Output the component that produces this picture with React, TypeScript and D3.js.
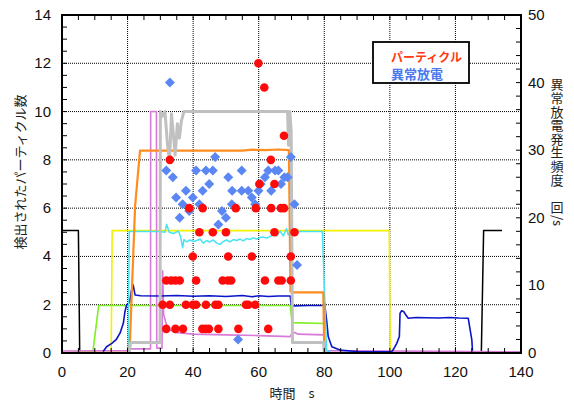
import React from 'react';
import * as d3 from 'd3';

type P = [number, number];

// ---------- axes ----------
const xTicks = [0, 20, 40, 60, 80, 100, 120, 140];
const yLeftTicks = [0, 2, 4, 6, 8, 10, 12, 14];
const yRightTicks = [0, 10, 20, 30, 40, 50];

// ---------- line series (time s, left-axis value) ----------
const blackLine: P[] = [[0, 5.07], [5.0, 5.07], [5.4, 0], [127.9, 0], [128.6, 5.07], [134.2, 5.07]];
const yellowLine: P[] = [[0, 0], [15.0, 0], [15.3, 5.07], [99.8, 5.07], [100.1, 0], [140, 0]];
const greenLine: P[] = [[0, 0], [9.4, 0.05], [11.2, 1.97], [40, 1.97], [69.6, 1.97], [70.2, 1.26], [79.8, 1.22], [80.3, 0], [140, 0]];
const blueLine: P[] = [
  [12.5, 0.05], [13.6, 0.26], [15.2, 0.4], [16.5, 0.55], [17.7, 0.82], [18.7, 1.23], [19.2, 1.71], [19.7, 1.99],
  [20.6, 2.1], [21.2, 2.6], [21.7, 2.82], [22.3, 2.4], [24, 2.37], [30, 2.36], [35, 2.38], [40, 2.35], [45, 2.37],
  [50, 2.34], [55, 2.38], [58, 2.33], [60, 2.37], [63, 2.34], [66, 2.36], [69.6, 2.36], [69.9, 2.0], [70.5, 1.95],
  [75, 1.97], [79.7, 1.97], [80.1, 2.05], [80.7, 1.37], [81.2, 0.68], [82.3, 0.26], [84.8, 0.12], [90, 0.06],
  [100.5, 0.05], [101.1, 0.15], [102.1, 0.4], [102.9, 0.68], [103.1, 1.64], [103.6, 1.75], [104.2, 1.72],
  [105.1, 1.53], [105.6, 1.44], [108, 1.47], [111.2, 1.46], [115, 1.45], [118, 1.47], [121, 1.45], [123.9, 1.44],
  [125.0, 0.54], [125.2, 0.1]
];
const orangeLine: P[] = [
  [0, 0], [20.6, 0.02], [22.3, 6.1], [23.8, 8.38], [40, 8.38], [55, 8.38], [58, 8.42], [62, 8.4], [66, 8.43],
  [69.2, 8.4], [69.7, 2.55], [70.5, 2.51], [79.7, 2.51], [80.0, 0], [140, 0]
];
const cyanLine: P[] = [
  [0, 0], [20.2, 0], [20.5, 5.03], [29.9, 5.03], [31.4, 5.0], [31.9, 5.33], [32.7, 5.0], [34.0, 4.95], [35.5, 5.05],
  [36.2, 4.8], [36.8, 4.36], [37.2, 4.7], [38.0, 4.6], [39.0, 4.68], [40.1, 4.62], [41.1, 4.66], [42.1, 4.72],
  [43.1, 4.55], [44.1, 4.66], [45.1, 4.6], [46.1, 4.68], [47.2, 4.55], [48.2, 4.5], [49.2, 4.62], [50.2, 4.68],
  [51.2, 4.6], [52.3, 4.7], [53.3, 4.66], [54.3, 4.72], [55.3, 4.64], [56.3, 4.74], [57.3, 4.7], [58.3, 4.77],
  [59.4, 4.72], [60.4, 4.78], [61.4, 4.8], [62.4, 4.76], [63.4, 4.82], [64.4, 4.9], [65.5, 4.85], [66.5, 5.05],
  [67.5, 4.85], [68.5, 5.15], [69.0, 4.9], [69.8, 5.05], [70.5, 5.03], [79.4, 5.03], [80.7, 0.1], [82, 0.02], [140, 0]
];
const pinkLine: P[] = [
  [0, 0.08], [20.3, 0.1], [20.8, 0.17], [27.0, 0.17], [27.05, 10], [28.8, 10], [28.9, 0.2], [30.5, 0.2],
  [30.7, 3.4], [31.0, 1.6], [32, 1.1], [33, 0.95], [34.5, 0.85], [40, 0.78], [50, 0.75], [60, 0.72], [69.5, 0.68],
  [70.2, 0.8], [71, 0.85], [72, 0.78], [79.8, 0.75], [80.3, 0.1], [140, 0.05]
];
const grayLine: P[] = [
  [20.5, 0], [20.9, 0.43], [29.9, 0.43], [30.0, 10], [30.6, 9.8], [31.4, 10], [32.2, 8.6], [32.8, 8.0], [33.4, 9.9],
  [34.0, 9.0], [34.5, 8.2], [35.2, 9.5], [35.8, 8.9], [36.4, 9.6], [37.2, 10], [68.8, 10], [69.1, 8.6],
  [69.5, 10], [69.9, 9.2], [70.3, 0.43], [79.8, 0.43], [80.0, 0]
];

// ---------- particle counts (left axis) ----------
const particleTimes = [
  59.9, 61.7, 67.7, 32.9, 63.7, 60.2, 64.8,
  38.8, 42.9, 53.0, 59.1, 63.8, 66.8, 67.7,
  41.9, 46.0, 50.0, 64.8, 70.9,
  39.9, 50.7, 57.9, 69.8,
  31.8, 33.3, 34.6, 35.9, 40.9, 49.0, 50.6, 51.6, 61.9, 66.0, 67.0, 69.8,
  30.7, 32.9, 37.8, 39.9, 40.9, 43.9, 46.8, 47.7, 56.1, 56.8, 58.9,
  31.8, 34.6, 36.9, 42.8, 43.8, 44.8, 47.7, 53.8, 62.9
];
const particleCounts = [
  12, 11, 9, 8, 8, 7, 7,
  6, 6, 6, 6, 6, 6, 6,
  5, 5, 5, 5, 5,
  4, 4, 4, 4,
  3, 3, 3, 3, 3, 3, 3, 3, 3, 3, 3, 3,
  2, 2, 2, 2, 2, 2, 2, 2, 2, 2, 2,
  1, 1, 1, 1, 1, 1, 1, 1, 1
];

// ---------- abnormal discharge frequency (right axis) ----------
const dischargeTimes = [
  32.9, 46.7, 69.8,
  31.8, 40.9, 43.9, 46.0, 54.8, 62.9, 65.0, 66.0,
  33.8, 50.7, 61.9, 67.8, 68.8,
  44.9, 60.6, 66.8,
  37.8, 42.9, 51.9, 54.8, 56.8, 59.9, 63.8,
  34.8, 39.9, 57.9,
  36.8, 41.9, 51.8, 58.9, 70.9,
  38.8, 48.8,
  35.9, 50.0,
  47.7, 71.7, 53.7
];
const dischargeRates = [
  40, 29, 29,
  27, 27, 27, 27, 27, 27, 27, 27,
  26, 26, 26, 26, 26,
  25, 25, 25,
  24, 24, 24, 24, 24, 24, 24,
  23, 23, 23,
  22, 22, 22, 22, 22,
  21, 21,
  20, 20,
  19, 13, 2
];

const legendLabels = ['パーティクル', '異常放電'];
const rightTitleUpright = '異常放電発生頻度　回';
const rightTitleRotated = '/s';

export default function App() {
  const L = 62, R = 521, T = 15, B = 353;
  const x = d3.scaleLinear().domain([0, 140]).range([L, R]);
  const yL = d3.scaleLinear().domain([0, 14]).range([B, T]);
  const yR = d3.scaleLinear().domain([0, 50]).range([B, T]);
  const line = d3.line<P>().x(d => x(d[0])).y(d => yL(d[1]));

  const numFont = '"Liberation Sans", Arial, sans-serif';
  const jpFont = '"Noto Sans CJK JP", sans-serif';

  const xMinor = d3.range(0, 141, 5);
  const yLMinor = d3.range(0, 14.01, 0.5);
  const yRMinor = d3.range(0, 50.01, 2);
  const diamond = d3.symbol().type(d3.symbolSquare).size(50)() as string;

  const series: { data: P[]; color: string; w: number }[] = [
    { data: blackLine, color: '#000000', w: 1.5 },
    { data: yellowLine, color: '#f2f200', w: 1.6 },
    { data: greenLine, color: '#80f020', w: 1.6 },
    { data: pinkLine, color: '#d87ad8', w: 1.6 },
    { data: blueLine, color: '#0a14c8', w: 1.6 },
    { data: cyanLine, color: '#48e2f2', w: 1.5 },
    { data: orangeLine, color: '#ff8c1e', w: 2.2 },
    { data: grayLine, color: '#c0c0c0', w: 3 },
  ];

  const rtChars = Array.from(rightTitleUpright);
  const rtX = 557, rtTop = 78, rtStep = 13.6, rtSize = 13;

  return (
    <svg width={574} height={401} style={{ position: 'absolute', left: 0, top: 0, background: '#fff' }}>
      <defs>
        <clipPath id="plot"><rect x={L} y={T} width={R - L} height={B - T} /></clipPath>
      </defs>
      <rect x={0} y={0} width={574} height={401} fill="#fff" />
      {/* grid */}
      <g stroke="#000" strokeWidth={1} strokeDasharray="1,1">
        {xTicks.slice(1, -1).map(t => <line key={'gx' + t} x1={x(t)} x2={x(t)} y1={T} y2={B} />)}
        {yLeftTicks.slice(1, -1).map(t => <line key={'gy' + t} x1={L} x2={R} y1={yL(t)} y2={yL(t)} />)}
      </g>
      {/* lines */}
      <g clipPath="url(#plot)" fill="none" strokeLinejoin="round">
        {series.map((s, i) => <path key={i} d={line(s.data) || ''} stroke={s.color} strokeWidth={s.w} />)}
      </g>
      {/* discharge diamonds */}
      <g fill="#5b87f5">
        {dischargeTimes.map((t, i) => (
          <path key={'d' + i} d={diamond} transform={`translate(${x(t)},${yR(dischargeRates[i])}) rotate(45)`} />
        ))}
      </g>
      {/* particle dots */}
      <g fill="#ff0a0a">
        {particleTimes.map((t, i) => <circle key={'p' + i} cx={x(t)} cy={yL(particleCounts[i])} r={4.3} />)}
      </g>
      {/* ticks */}
      <g stroke="#000" strokeWidth={1}>
        {xMinor.map(t => <line key={'tb' + t} x1={x(t)} x2={x(t)} y1={B} y2={B - 5} />)}
        {xMinor.map(t => <line key={'tt' + t} x1={x(t)} x2={x(t)} y1={T} y2={T + 5} />)}
        {yLMinor.map(t => <line key={'tl' + t} x1={L} x2={L + 5} y1={yL(t)} y2={yL(t)} />)}
        {yRMinor.map(t => <line key={'tr' + t} x1={R} x2={R - 5} y1={yR(t)} y2={yR(t)} />)}
      </g>
      <rect x={L} y={T} width={R - L} height={B - T} fill="none" stroke="#000" strokeWidth={2} />
      {/* tick labels */}
      <g fontFamily={numFont} fontSize={15} fill="#111">
        {xTicks.map(t => <text key={'lx' + t} x={x(t)} y={377} textAnchor="middle">{t}</text>)}
        {yLeftTicks.map(t => <text key={'ly' + t} x={51} y={yL(t) + 5} textAnchor="end">{t}</text>)}
        {yRightTicks.map(t => <text key={'lr' + t} x={528} y={yR(t) + 5} textAnchor="start">{t}</text>)}
      </g>
      {/* axis titles */}
      <g fontFamily={jpFont} fontSize={13} fill="#222">
        <text x={292} y={398} textAnchor="middle">時間　s</text>
        <text transform="translate(25,172) rotate(-90)" textAnchor="middle">検出されたパーティクル数</text>
      </g>
      <text fontFamily={jpFont} fontSize={rtSize} fill="#222" textAnchor="middle">
        {rtChars.map((c, i) => (
          <tspan key={'rt' + i} x={rtX} y={rtTop + (i + 1) * rtStep - 2.2}>{c}</tspan>
        ))}
      </text>
      <text transform={`translate(${rtX - 4},${rtTop + rtChars.length * rtStep + 1}) rotate(90)`}
        fontFamily={jpFont} fontSize={13} fill="#222">{rightTitleRotated}</text>
      {/* legend */}
      <rect x={373} y={42} width={96} height={41} fill="#fff" stroke="#000" strokeWidth={1.8} />
      <text x={391} y={62} fontFamily={jpFont} fontSize={12} fontWeight="bold" fill="#ff3a10">{legendLabels[0]}</text>
      <text x={391} y={78.5} fontFamily={jpFont} fontSize={13} fontWeight="bold" fill="#4a78f0">{legendLabels[1]}</text>
    </svg>
  );
}
